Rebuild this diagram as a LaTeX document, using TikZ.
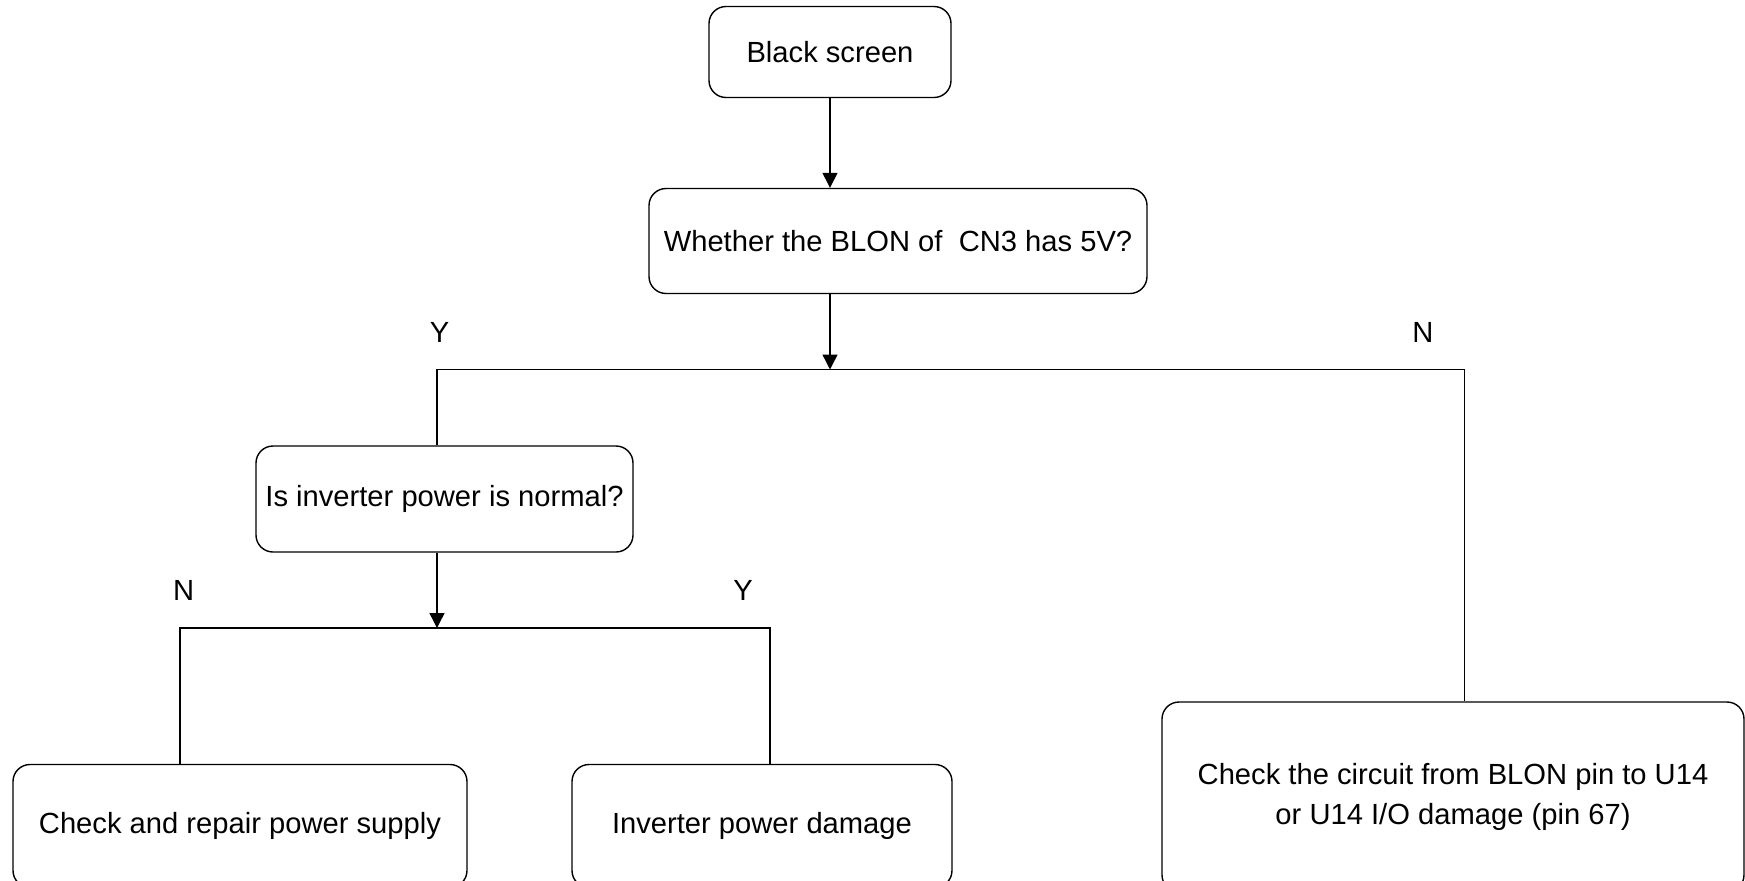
\documentclass[tikz,border=0pt]{standalone}
\usepackage{fontspec}
\setmainfont{Liberation Sans}
\usetikzlibrary{arrows.meta}

\begin{document}
\begin{tikzpicture}[x=0.02cm,y=-0.02cm,
	box/.style={draw,line width=0.8pt,rounded corners=0.34cm,inner sep=0pt,align=center,
		font=\fontsize{16.6}{22.5}\selectfont},
	lbl/.style={font=\fontsize{16.6}{20}\selectfont},
	line/.style={line width=0.8pt},
	>={Triangle[length=0.3cm,width=0.3cm]}]
	\useasboundingbox (0,0) rectangle (1745,880);
	\clip (0,0) rectangle (1745,880);
	\node[box,minimum width=242*0.02cm,minimum height=91*0.02cm] (black) at (830,52) {Black screen};
	\node[box,minimum width=498*0.02cm,minimum height=105*0.02cm] (blon) at (898,241) {Whether the BLON of \ CN3 has 5V?};
	\node[box,minimum width=377*0.02cm,minimum height=106*0.02cm] (inv) at (444.5,499) {Is inverter power is normal?};
	\node[box,minimum width=454*0.02cm,minimum height=123*0.02cm] (repair) at (240,826) {Check and repair power supply};
	\node[box,minimum width=380*0.02cm,minimum height=123*0.02cm] (damage) at (762,826) {Inverter power damage};
	\node[box,minimum width=582*0.02cm,minimum height=190*0.02cm] (circuit) at (1453,797) {Check the circuit from BLON pin to U14\\or U14 I/O damage (pin 67)};
	% junctions
	\coordinate (j1) at (830,369.5);
	\coordinate (j2) at (437,628);
	\node[lbl] (y1) at (439.6,332) {Y};
	\node[lbl] (n1) at (1423,332) {N};
	\node[lbl] (n2) at (183.6,590) {N};
	\node[lbl] (y2) at (743,590) {Y};
	\draw[line,->] (black.south) -- (black.south |- blon.north);
	\draw[line,->] (black.south |- blon.south) -- (j1);
	\draw[line] (j2 |- inv.north) -- (j2 |- j1) -- (1464.5,369.5) coordinate (j3) -- (j3 |- circuit.north);
	\draw[line,->] (j2 |- inv.south) -- (j2);
	\draw[line] (repair.north -| 180,0) -- (180,628) -- (770,628) -- (damage.north -| 770,0);
\end{tikzpicture}
\end{document}
